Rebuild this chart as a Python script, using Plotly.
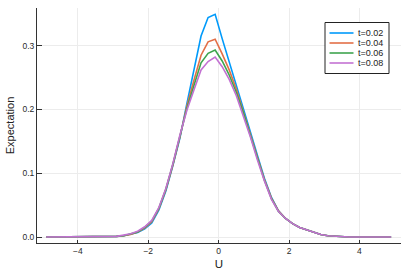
import plotly.graph_objects as go

U = [round(-4.9 + 0.2 * i, 1) for i in range(50)]

# values (U = -4.9 ... 4.9, step 0.2)
t002 = [0, 0, 0, 0, 0, 0, 0, 0, 0, 0,
        0.001, 0.002, 0.004, 0.007, 0.013, 0.022, 0.042, 0.072, 0.112, 0.155,
        0.210, 0.265, 0.315, 0.344, 0.349, 0.311, 0.275, 0.240, 0.203, 0.165,
        0.128, 0.092, 0.062, 0.041, 0.029, 0.021, 0.015, 0.011, 0.007, 0.004,
        0.002, 0.001, 0, 0, 0, 0, 0, 0, 0, 0]
t004 = [0, 0, 0, 0, 0, 0, 0, 0, 0, 0,
        0.001, 0.002, 0.004, 0.008, 0.014, 0.024, 0.044, 0.074, 0.113, 0.157,
        0.206, 0.246, 0.285, 0.306, 0.310, 0.287, 0.262, 0.232, 0.198, 0.161,
        0.125, 0.090, 0.061, 0.041, 0.029, 0.021, 0.015, 0.011, 0.007, 0.004,
        0.002, 0.001, 0, 0, 0, 0, 0, 0, 0, 0]
t006 = [0, 0, 0, 0, 0, 0, 0, 0, 0, 0,
        0.001, 0.002, 0.005, 0.008, 0.015, 0.025, 0.045, 0.075, 0.114, 0.158,
        0.202, 0.238, 0.273, 0.288, 0.293, 0.276, 0.254, 0.227, 0.195, 0.159,
        0.123, 0.089, 0.060, 0.040, 0.029, 0.021, 0.015, 0.011, 0.007, 0.004,
        0.002, 0.001, 0, 0, 0, 0, 0, 0, 0, 0]
t008 = [0, 0, 0, 0, 0, 0, 0, 0, 0, 0,
        0.001, 0.003, 0.005, 0.009, 0.016, 0.026, 0.046, 0.076, 0.115, 0.160,
        0.199, 0.231, 0.262, 0.275, 0.282, 0.267, 0.247, 0.222, 0.191, 0.157,
        0.121, 0.088, 0.059, 0.040, 0.029, 0.021, 0.015, 0.011, 0.007, 0.004,
        0.002, 0.001, 0, 0, 0, 0, 0, 0, 0, 0]

names = ["t=0.02", "t=0.04", "t=0.06", "t=0.08"]
values = [t002, t004, t006, t008]
colors = ["#009AFA", "#E36F47", "#3EA44E", "#C371D2"]

x_ticks = [-4, -2, 0, 2, 4]
y_ticks = [0.0, 0.1, 0.2, 0.3]
y_tick_text = ["0.0", "0.1", "0.2", "0.3"]

W, H = 409, 273
ML, MR, MT, MB = 37, 8, 8, 30
PW, PH = W - ML - MR, H - MT - MB


def px(x):
    return (x - ML) / PW


def py(y):
    return 1 - (y - MT) / PH


fig = go.Figure()
for name, vals, col in zip(names, values, colors):
    fig.add_trace(go.Scatter(x=U, y=vals, mode="lines", name=name,
                             line=dict(color=col, width=1.6), showlegend=False))

font = "Liberation Sans, Arial, sans-serif"

# compact legend box (drawn in paper coordinates)
shapes = [dict(type="rect", xref="paper", yref="paper",
               x0=px(325), x1=px(389), y0=py(73.5), y1=py(22.5),
               line=dict(color="#222222", width=1), fillcolor="white", layer="above")]
annotations = []
for i, (name, col) in enumerate(zip(names, colors)):
    yc = 33.0 + 10 * i
    shapes.append(dict(type="line", xref="paper", yref="paper",
                       x0=px(329.5), x1=px(353.5), y0=py(yc), y1=py(yc),
                       line=dict(color=col, width=1.6), layer="above"))
    annotations.append(dict(xref="paper", yref="paper", x=px(356), y=py(yc),
                            xanchor="left", yanchor="middle", showarrow=False,
                            text=name, font=dict(size=9, color="#222222", family=font)))

fig.update_layout(
    width=W, height=H,
    margin=dict(l=ML, r=MR, t=MT, b=MB),
    paper_bgcolor="white", plot_bgcolor="white",
    font=dict(family=font, size=8, color="#333333"),
    showlegend=False,
    shapes=shapes, annotations=annotations,
    xaxis=dict(range=[-5.16, 5.18], tickvals=x_ticks,
               ticks="inside", ticklen=3, tickcolor="#333333",
               showline=True, linecolor="#333333", linewidth=1,
               showgrid=True, gridcolor="#ececec", gridwidth=1,
               zeroline=False, mirror=False, automargin=False,
               tickfont=dict(size=8.5, color="#2a2a2a"),
               title=dict(text="U", font=dict(size=11.5, color="#222222"), standoff=4)),
    yaxis=dict(range=[-0.0094, 0.359], tickvals=y_ticks, ticktext=y_tick_text,
               ticks="inside", ticklen=5, tickcolor="#333333",
               showline=True, linecolor="#333333", linewidth=1,
               showgrid=True, gridcolor="#ececec", gridwidth=1,
               zeroline=False, mirror=False, automargin=False,
               tickfont=dict(size=8.5, color="#2a2a2a"),
               title=dict(text="Expectation", font=dict(size=11, color="#222222"), standoff=5)),
)

fig.write_html("out.html", config={"displayModeBar": False},
               post_script="document.body.style.margin='0';")
